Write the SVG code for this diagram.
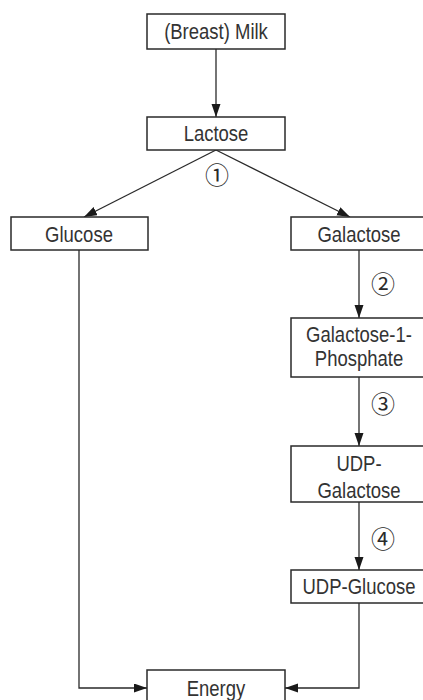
<svg xmlns="http://www.w3.org/2000/svg" width="423" height="700" viewBox="0 0 423 700">
<style>
.box{fill:#fff;stroke:#2a2a2a;stroke-width:1.5}
.lbl{font-family:"Liberation Sans",Arial,sans-serif;font-size:18.5px;fill:#333;text-anchor:middle}
.num{font-family:"Noto Sans CJK JP","DejaVu Sans",sans-serif;font-size:24px;fill:#2a2a2a;text-anchor:middle;dominant-baseline:central}
.edge{fill:none;stroke:#2a2a2a;stroke-width:1.3;marker-end:url(#ah)}
</style>
<defs>
<marker id="ah" markerUnits="userSpaceOnUse" markerWidth="13" markerHeight="10" refX="13" refY="4.5" orient="auto">
<path d="M0,0 L13,4.5 L0,9 z" fill="#1a1a1a"/>
</marker>
</defs>
<rect width="423" height="700" fill="#fff"/>
<g id="connectors">
<path class="edge" d="M216,49 V117"/>
<path class="edge" d="M216,150 L84,217"/>
<path class="edge" d="M216,150 L350,217"/>
<path class="edge" d="M359,250 V318"/>
<path class="edge" d="M359,377 V446"/>
<path class="edge" d="M359,502 V570"/>
<path class="edge" d="M79,250 V688 H147"/>
<path class="edge" d="M359,603 V688 H285"/>
</g>
<g id="milk"><rect class="box" x="147" y="14" width="138" height="35"/><text class="lbl" transform="translate(216,38.5) scale(1,1.18)">(Breast) Milk</text></g>
<g id="lactose"><rect class="box" x="147" y="117" width="138" height="33"/><text class="lbl" transform="translate(216,140.5) scale(1,1.18)">Lactose</text></g>
<g id="step1"><text class="num" x="217" y="173">①</text></g>
<g id="glucose"><rect class="box" x="11" y="217" width="137" height="33"/><text class="lbl" transform="translate(79,241.5) scale(1,1.18)">Glucose</text></g>
<g id="galactose"><rect class="box" x="291" y="217" width="140" height="33"/><text class="lbl" transform="translate(359,241.5) scale(1,1.18)">Galactose</text></g>
<g id="step2"><text class="num" x="383" y="282">②</text></g>
<g id="gal1p"><rect class="box" x="291" y="318" width="140" height="59"/><text class="lbl" transform="translate(359,341.5) scale(1,1.15)">Galactose-1-</text><text class="lbl" transform="translate(359,365.5) scale(1,1.15)">Phosphate</text></g>
<g id="step3"><text class="num" x="383" y="402">③</text></g>
<g id="udpgal"><rect class="box" x="291" y="446" width="140" height="56"/><text class="lbl" transform="translate(359,471) scale(1,1.18)">UDP-</text><text class="lbl" transform="translate(359,498) scale(1,1.18)">Galactose</text></g>
<g id="step4"><text class="num" x="383" y="537">④</text></g>
<g id="udpglc"><rect class="box" x="291" y="570" width="140" height="33"/><text class="lbl" transform="translate(359,594) scale(1,1.18)">UDP-Glucose</text></g>
<g id="energy"><rect class="box" x="147" y="670" width="138" height="40"/><text class="lbl" transform="translate(216,695.5) scale(1,1.18)">Energy</text></g>
</svg>
